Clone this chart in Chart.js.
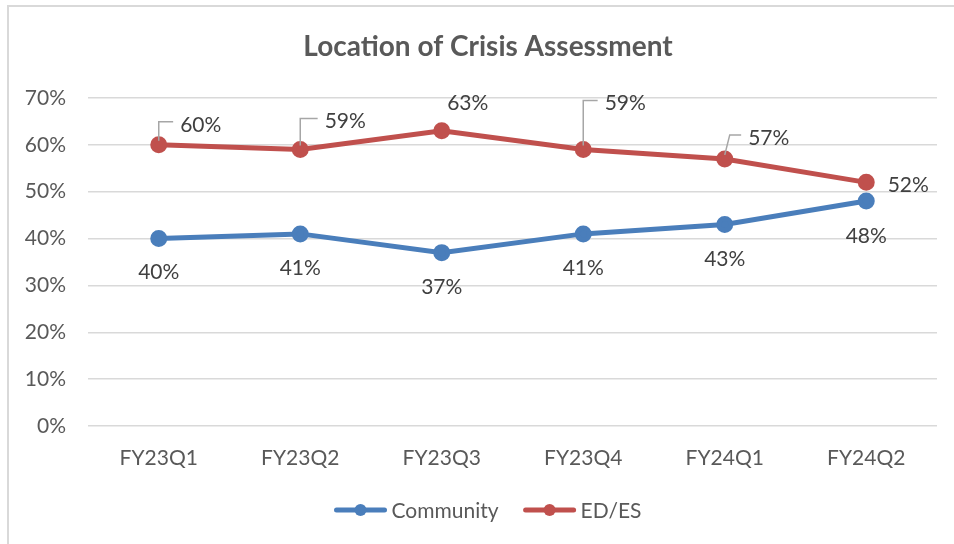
<!DOCTYPE html>
<html>
<head>
<meta charset="utf-8">
<script src="https://cdn.jsdelivr.net/npm/chart.js@4/dist/chart.umd.min.js"></script>
<style>
html, body { margin: 0; padding: 0; background: #fff; overflow: hidden; }
#wrap { position: relative; width: 954px; height: 544px; }
#frame { position: absolute; left: 7px; top: 5px; width: 1000px; height: 600px; border-left: 2px solid #d9d9d9; border-top: 2px solid #d9d9d9; pointer-events: none; }
canvas { position: absolute; left: 0; top: 0; }
</style>
</head>
<body>
<div id="wrap">
<div id="frame"></div>
<canvas id="crisisChart" width="954" height="544"></canvas>
</div>
<script>
(function(){
const quarters = ['FY23Q1', 'FY23Q2', 'FY23Q3', 'FY23Q4', 'FY24Q1', 'FY24Q2'];
const community = [40, 41, 37, 41, 43, 48];
const edEs = [60, 59, 63, 59, 57, 52];
const yTicks = [0, 10, 20, 30, 40, 50, 60, 70];
const chartTitle = 'Location of Crisis Assessment';

// label placement: [dx, dy, leader line]
const communityLabels = [[0,34,0],[0,34,0],[0,35,0],[0,34,0],[0,35,0],[0,35,0]];
const edEsLabels = [[42,-20,1],[45,-28,1],[26,-28,0],[42,-46,1],[44,-21,1],[42,3,0]];

const FONT = 'Lato, "Open Sans", sans-serif';
const CENTER_X = 488; // frame is offset, so title/legend sit right of canvas centre

const labelPlugin = {
id: 'pointLabels',
afterDatasetsDraw(chart) {
const ctx = chart.ctx;
const place = [communityLabels, edEsLabels];
ctx.save();
ctx.font = '21px ' + FONT;
ctx.textAlign = 'center';
ctx.textBaseline = 'middle';
chart.data.datasets.forEach((ds, di) => {
const meta = chart.getDatasetMeta(di);
meta.data.forEach((pt, i) => {
const [dx, dy, leader] = place[di][i];
const text = ds.data[i] + '%';
const tx = pt.x + dx, ty = pt.y + dy;
if (leader) {
const w = ctx.measureText(text).width;
ctx.strokeStyle = '#a6a6a6';
ctx.lineWidth = 1.5;
ctx.beginPath();
ctx.moveTo(pt.x, pt.y - 4);
ctx.lineTo(pt.x + (i === 4 ? 5 : 0), ty - 3);
ctx.lineTo(tx - w / 2 - 7, ty - 3);
ctx.stroke();
}
ctx.fillStyle = '#404040';
ctx.fillText(text, tx, ty);
});
});
ctx.restore();
}
};

const titleLegendPlugin = {
id: 'titleLegend',
afterDraw(chart) {
const ctx = chart.ctx;
ctx.save();
// title
ctx.font = 'bold 28px ' + FONT;
ctx.fillStyle = '#595959';
ctx.textAlign = 'center';
ctx.textBaseline = 'middle';
ctx.fillText(chartTitle, CENTER_X, 47);
// legend
ctx.font = '21px ' + FONT;
ctx.textAlign = 'left';
const lineW = 52, gap = 5, space = 25, y = 510;
const items = chart.data.datasets.map(ds => ({ text: ds.label, color: ds.borderColor, w: ctx.measureText(ds.label).width }));
let total = items.reduce((s, it) => s + lineW + gap + it.w, 0) + space * (items.length - 1);
let x = CENTER_X - total / 2;
items.forEach(it => {
ctx.strokeStyle = it.color;
ctx.lineWidth = 5;
ctx.lineCap = 'round';
ctx.beginPath();
ctx.moveTo(x + 2, y);
ctx.lineTo(x + lineW - 2, y);
ctx.stroke();
ctx.fillStyle = it.color;
ctx.beginPath();
ctx.arc(x + lineW / 2, y, 6, 0, Math.PI * 2);
ctx.fill();
ctx.fillStyle = '#595959';
ctx.fillText(it.text, x + lineW + gap, y + 1);
x += lineW + gap + it.w + space;
});
ctx.restore();
}
};

new Chart(document.getElementById('crisisChart').getContext('2d'), {
type: 'line',
data: {
labels: quarters,
datasets: [{
label: 'Community',
data: community,
borderColor: '#4a7ebb',
backgroundColor: '#4a7ebb',
borderWidth: 5,
pointRadius: 6,
pointHoverRadius: 6,
tension: 0
}, {
label: 'ED/ES',
data: edEs,
borderColor: '#c0504d',
backgroundColor: '#c0504d',
borderWidth: 5,
pointRadius: 6,
pointHoverRadius: 6,
tension: 0
}]
},
options: {
responsive: false,
animation: false,
layout: { padding: { left: 0, right: 17, top: 98, bottom: 58 } },
plugins: {
legend: { display: false },
tooltip: { enabled: false },
title: { display: false }
},
scales: {
x: {
offset: true,
grid: { display: false, drawTicks: false },
border: { display: false },
ticks: { color: '#595959', font: { family: FONT, size: 21 }, padding: 20 },
afterFit(s) { s.height = 60; }
},
y: {
min: 0, max: 70,
afterBuildTicks(s) { s.ticks = yTicks.map(v => ({ value: v })); },
grid: { color: '#d9d9d9', lineWidth: 1.5, drawTicks: false },
border: { display: false },
ticks: { color: '#595959', font: { family: FONT, size: 21 }, padding: 22, callback: v => v + '%' },
afterFit(s) { s.width = 88; }
}
}
},
plugins: [labelPlugin, titleLegendPlugin]
});
})();
</script>
</body>
</html>
